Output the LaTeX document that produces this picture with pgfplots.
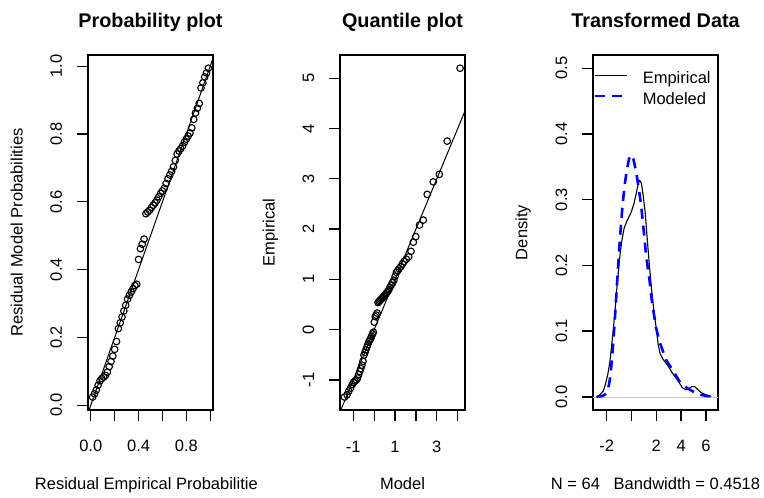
\documentclass[border=0pt]{standalone}
\usepackage{fontspec}
\setmainfont{Liberation Sans}
\usepackage{pgfplots}
\usepackage{pgfplotstable}
\pgfplotsset{compat=1.18}

\pgfplotstableread{
x y
0.0154 0.024
0.0308 0.034
0.0462 0.045
0.0615 0.059
0.0769 0.072
0.0923 0.079
0.1077 0.083
0.1231 0.088
0.1385 0.098
0.1538 0.114
0.1692 0.129
0.1846 0.145
0.2000 0.165
0.2154 0.188
0.2308 0.226
0.2462 0.243
0.2615 0.260
0.2769 0.278
0.2923 0.295
0.3077 0.313
0.3231 0.324
0.3385 0.334
0.3538 0.344
0.3692 0.353
0.3846 0.357
0.4000 0.430
0.4154 0.462
0.4308 0.475
0.4462 0.490
0.4615 0.565
0.4769 0.570
0.4923 0.575
0.5077 0.583
0.5231 0.590
0.5385 0.597
0.5538 0.605
0.5692 0.615
0.5846 0.625
0.6000 0.632
0.6154 0.640
0.6308 0.654
0.6462 0.668
0.6615 0.679
0.6769 0.690
0.6923 0.703
0.7077 0.722
0.7231 0.741
0.7385 0.750
0.7538 0.757
0.7692 0.765
0.7846 0.776
0.8000 0.785
0.8154 0.794
0.8308 0.803
0.8462 0.818
0.8615 0.843
0.8769 0.862
0.8923 0.876
0.9077 0.890
0.9231 0.936
0.9385 0.951
0.9538 0.968
0.9692 0.980
0.9846 0.994
}\probdata

\pgfplotstableread{
x y
-1.420 -1.340
-1.300 -1.294
-1.215 -1.221
-1.129 -1.160
-1.049 -1.090
-0.984 -1.045
-0.919 -1.023
-0.853 -1.002
-0.795 -0.960
-0.743 -0.892
-0.691 -0.828
-0.639 -0.773
-0.587 -0.705
-0.537 -0.628
-0.490 -0.504
-0.443 -0.452
-0.396 -0.401
-0.349 -0.346
-0.302 -0.294
-0.258 -0.243
-0.214 -0.211
-0.170 -0.175
-0.126 -0.130
-0.082 -0.085
-0.038 -0.050
0.006 0.150
0.050 0.260
0.095 0.290
0.140 0.330
0.184 0.540
0.229 0.560
0.273 0.580
0.318 0.600
0.363 0.615
0.411 0.640
0.461 0.665
0.511 0.690
0.561 0.715
0.611 0.740
0.661 0.765
0.711 0.800
0.761 0.845
0.819 0.889
0.881 0.934
0.943 0.986
1.005 1.063
1.067 1.140
1.129 1.176
1.195 1.211
1.275 1.253
1.354 1.310
1.434 1.357
1.540 1.403
1.652 1.450
1.763 1.559
1.875 1.740
1.991 1.850
2.171 2.080
2.352 2.180
2.540 2.690
2.830 2.940
3.120 3.090
3.499 3.750
4.115 5.200
}\qqdata

\pgfplotstableread{
x y
-2.83 0
-2.6 0.002
-2.43 0.0055
-2.27 0.009
-2.1 0.019
-1.9 0.035
-1.73 0.055
-1.6 0.078
-1.49 0.097
-1.33 0.13
-1.15 0.172
-0.93 0.215
-0.8 0.235
-0.6 0.256
-0.4 0.266
-0.2 0.274
0.0 0.282
0.2 0.294
0.41 0.312
0.55 0.325
0.67 0.329
0.8 0.325
0.95 0.305
1.1 0.281
1.25 0.245
1.45 0.198
1.61 0.165
1.86 0.122
2.0 0.104
2.15 0.08
2.3 0.066
2.55 0.057
2.92 0.048
3.3 0.036
3.73 0.025
4.1 0.014
4.4 0.0106
4.65 0.013
4.9 0.016
5.1 0.0155
5.35 0.011
5.6 0.0065
6.0 0.003
6.43 0.0008
}\empdens

\pgfplotstableread{
x y
-2.8 0
-2.3 0.0015
-2.05 0.005
-1.9 0.0106
-1.75 0.025
-1.63 0.046
-1.5 0.075
-1.36 0.112
-1.22 0.155
-1.09 0.195
-0.95 0.235
-0.83 0.266
-0.7 0.295
-0.55 0.322
-0.4 0.342
-0.2 0.362
-0.02 0.368
0.15 0.362
0.38 0.342
0.6 0.315
0.78 0.291
1.0 0.25
1.18 0.215
1.3 0.198
1.45 0.178
1.65 0.145
1.98 0.105
2.25 0.085
2.52 0.07
2.8 0.056
3.33 0.04
3.89 0.023
4.13 0.018
4.6 0.012
5.07 0.007
5.6 0.003
6.14 0.0012
6.5 0.0003
}\moddens

\newcommand{\basefont}{\fontsize{16.5}{19}\selectfont}
\newcommand{\titlefont}{\fontsize{19.8}{23}\selectfont\bfseries}

\begin{document}
\basefont
\begin{tikzpicture}
\useasboundingbox (0pt,0pt) rectangle (764pt,498pt);
\pgfplotsset{
  rstyle/.style={
    scale only axis, width=125pt, height=355pt, anchor=south west,
    axis line style={line width=1.2pt, black},
    tick align=outside, tick pos=left,
    major tick length=11pt,
    tick style={line width=1.3pt, black},
    ticklabel style={font=\basefont},
    xticklabel style={anchor=base, inner sep=0pt, yshift=-31pt},
    yticklabel style={xshift=-15pt, rotate=90, anchor=base, inner sep=0pt},
    scaled ticks=false,
  },
  circ/.style={only marks, mark=o, mark size=3.3pt, mark options={line width=1.1pt, black}},
}

% Panel 1
\begin{axis}[rstyle, at={(88pt,88pt)},
  xmin=-0.0234, xmax=1.0234, ymin=-0.014, ymax=1.033,
  xtick={0,0.2,0.4,0.6,0.8,1.0}, xticklabels={0.0,,0.4,,0.8,},
  ytick={0,0.2,0.4,0.6,0.8,1.0}, yticklabels={0.0,0.2,0.4,0.6,0.8,1.0}]
\addplot[circ] table[x=x,y=y] {\probdata};
\addplot[black, line width=1pt] coordinates {(-0.1,-0.1) (1.1,1.1)};
\end{axis}

% Panel 2
\begin{axis}[rstyle, at={(340pt,88pt)},
  xmin=-1.637, xmax=4.35, ymin=-1.597, ymax=5.463,
  xtick={-1,0,1,2,3,4}, xticklabels={-1,,1,,3,},
  ytick={-1,0,1,2,3,4,5}, yticklabels={-1,0,1,2,3,4,5}]
\addplot[circ] table[x=x,y=y] {\qqdata};
\addplot[black, line width=1pt] coordinates {(-2,-2) (6,6)};
\end{axis}

% Panel 3
\begin{axis}[rstyle, at={(593pt,88pt)},
  xmin=-3.10, xmax=6.97, ymin=-0.02, ymax=0.52,
  xtick={-2,0,2,4,6}, xticklabels={-2,,2,4,6},
  ytick={0,0.1,0.2,0.3,0.4,0.5}, yticklabels={0.0,0.1,0.2,0.3,0.4,0.5},
  legend style={draw=none, fill=none, at={(0,1)}, anchor=north west,
    yshift=-16pt, inner sep=0pt, font=\basefont,
    nodes={inner sep=0pt, anchor=base west}, row sep=6.5pt, column sep=15pt},
  legend cell align=left,
  legend image code/.code={\draw[#1] (0pt,8pt) -- (32pt,8pt);}]
\addplot[gray!45, line width=0.4pt, forget plot] coordinates {(-3.2,0) (7.1,0)};
\addplot[black, line width=1.1pt] table[x=x,y=y] {\empdens};
\addlegendentry{Empirical}
\addplot[blue, line width=2.6pt, dash pattern=on 10pt off 7pt] table[x=x,y=y] {\moddens};
\addlegendentry{Modeled}
\end{axis}

% Titles
\node[anchor=base, font=\titlefont] at (150.5pt,470pt) {Probability plot};
\node[anchor=base, font=\titlefont] at (402.5pt,470pt) {Quantile plot};
\node[anchor=base, font=\titlefont] at (655.5pt,470pt) {Transformed Data};

% x labels
\begin{scope}
\clip (0pt,0pt) rectangle (257pt,498pt);
\node[anchor=base, inner sep=0pt] at (150.5pt,8.5pt) {Residual Empirical Probabilities};
\end{scope}
\node[anchor=base, inner sep=0pt] at (402.5pt,8.5pt) {Model};
\node[anchor=base, inner sep=0pt] at (655.5pt,8.5pt) {N = 64\ \ \ Bandwidth = 0.4518};

% y labels
\node[rotate=90, anchor=base, inner sep=0pt] at (22.7pt,265.5pt) {Residual Model Probabilities};
\node[rotate=90, anchor=base, inner sep=0pt] at (274.7pt,265.5pt) {Empirical};
\node[rotate=90, anchor=base, inner sep=0pt] at (527.3pt,265.5pt) {Density};
\end{tikzpicture}
\end{document}
